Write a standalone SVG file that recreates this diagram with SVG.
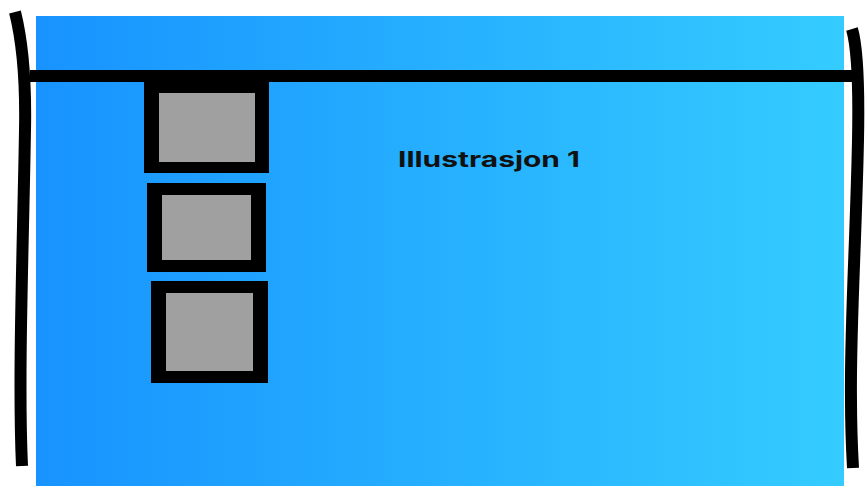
<svg xmlns="http://www.w3.org/2000/svg" width="865" height="486" viewBox="0 0 865 486">
<defs>
<linearGradient id="bg" x1="0" y1="0" x2="1" y2="0">
<stop offset="0" stop-color="#1893ff"/>
<stop offset="1" stop-color="#34ccff"/>
</linearGradient>
<style>
.frame{fill:#000}
.pane{fill:#a0a0a0}
.stroke{fill:none;stroke:#000;stroke-width:12;stroke-linecap:butt}
.title{font-family:Inter,"Liberation Sans",sans-serif;font-weight:bold;font-size:21px;fill:#111}
</style>
</defs>
<rect x="0" y="0" width="865" height="486" fill="#fff"/>
<rect x="36" y="16" width="808" height="470" fill="url(#bg)"/>
<g id="connectors">
<path class="stroke" d="M15,12 C22,40 26,80 25,130 C23,250 18,380 22,466"/>
<path class="stroke" d="M852,29 C858,50 859,90 858,140 C856,240 850,330 851,400 C851,430 852,450 853,468"/>
<line class="stroke" x1="30" y1="76" x2="858" y2="76"/>
</g>
<g id="window1">
<rect class="frame" x="144" y="76" width="125" height="97"/>
<rect class="pane" x="159" y="93" width="96" height="69"/>
</g>
<g id="window2">
<rect class="frame" x="147" y="183" width="119" height="89"/>
<rect class="pane" x="162" y="195" width="89" height="65"/>
</g>
<g id="window3">
<rect class="frame" x="151" y="281" width="117" height="102"/>
<rect class="pane" x="166" y="293" width="87" height="78"/>
</g>
<g id="label">
<text class="title" x="398" y="167" textLength="182" lengthAdjust="spacingAndGlyphs">Illustrasjon 1</text>
</g>
</svg>
